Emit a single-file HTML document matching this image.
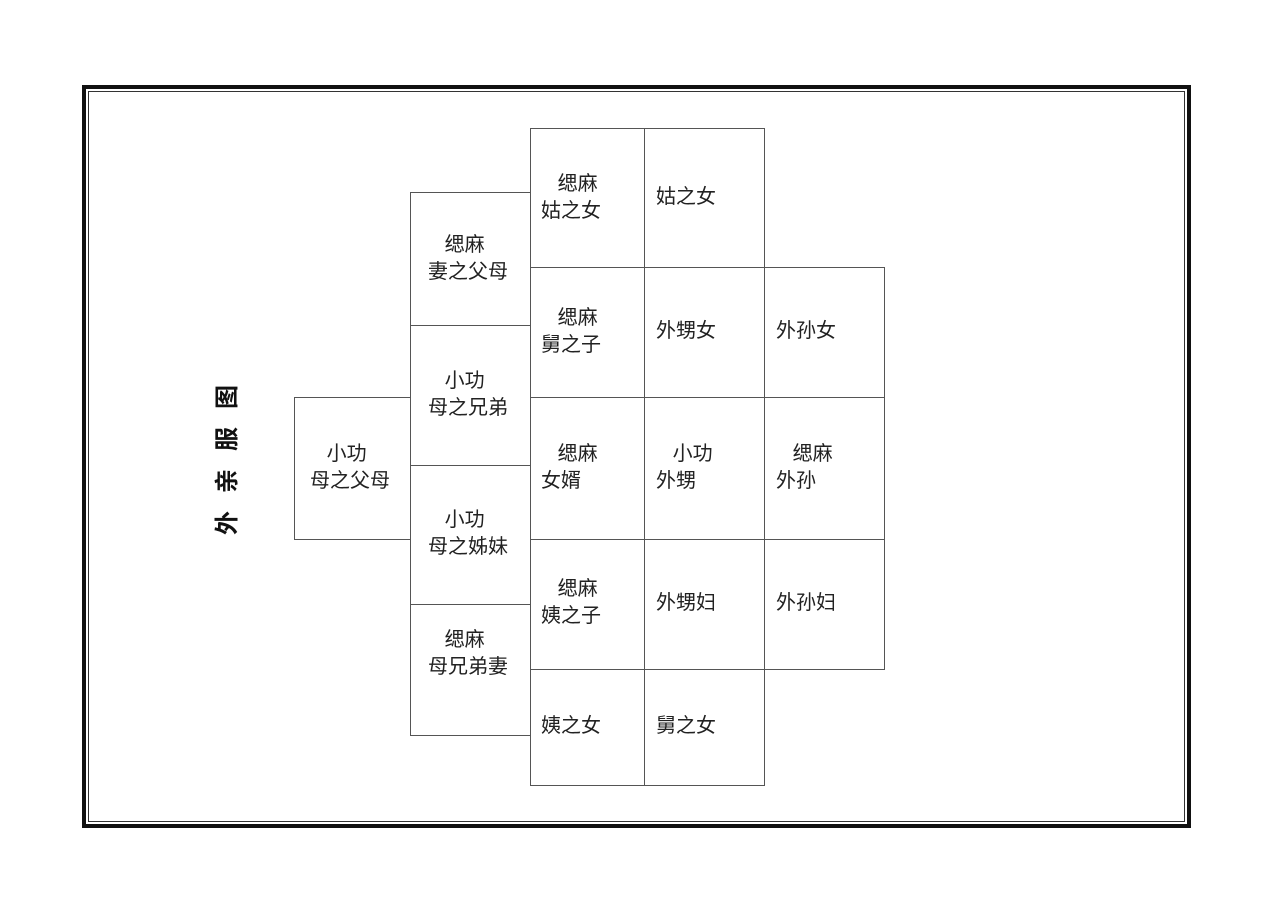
<!DOCTYPE html>
<html><head><meta charset="utf-8"><style>
body{margin:0;width:1269px;height:914px;background:#fff;position:relative;overflow:hidden;font-family:"Liberation Sans","Noto Sans CJK SC",sans-serif;}
.b{position:absolute;border:1px solid #555;box-sizing:border-box;}
.t{position:absolute;font-size:20px;line-height:27px;color:#222;white-space:nowrap;}
</style></head><body>
<div style="position:absolute;left:82px;top:85px;width:1109px;height:743px;border:4px solid #111;box-sizing:border-box"></div>
<div style="position:absolute;left:88px;top:91px;width:1097px;height:731px;border:1px solid #333;box-sizing:border-box"></div>
<div style="position:absolute;left:128px;top:443px;width:200px;height:34px;transform:rotate(-90deg);font-size:24px;font-weight:bold;letter-spacing:18px;text-indent:18px;text-align:center;line-height:34px;color:#111;white-space:nowrap">外亲服图</div>

<div class="b" style="left:294px;top:397px;width:117px;height:143px"></div>
<div class="b" style="left:410px;top:192px;width:121px;height:134px"></div>
<div class="b" style="left:410px;top:325px;width:121px;height:141px"></div>
<div class="b" style="left:410px;top:465px;width:121px;height:140px"></div>
<div class="b" style="left:410px;top:604px;width:121px;height:132px"></div>
<div class="b" style="left:530px;top:128px;width:115px;height:140px"></div>
<div class="b" style="left:530px;top:267px;width:115px;height:131px"></div>
<div class="b" style="left:530px;top:397px;width:115px;height:143px"></div>
<div class="b" style="left:530px;top:539px;width:115px;height:131px"></div>
<div class="b" style="left:530px;top:669px;width:115px;height:117px"></div>
<div class="b" style="left:644px;top:128px;width:121px;height:140px"></div>
<div class="b" style="left:644px;top:267px;width:121px;height:131px"></div>
<div class="b" style="left:644px;top:397px;width:121px;height:143px"></div>
<div class="b" style="left:644px;top:539px;width:121px;height:131px"></div>
<div class="b" style="left:644px;top:669px;width:121px;height:117px"></div>
<div class="b" style="left:764px;top:267px;width:121px;height:131px"></div>
<div class="b" style="left:764px;top:397px;width:121px;height:143px"></div>
<div class="b" style="left:764px;top:539px;width:121px;height:131px"></div>

<div class="t" style="left:310px;top:441px">&nbsp;&nbsp;&nbsp;小功<br>母之父母</div>
<div class="t" style="left:428px;top:232px">&nbsp;&nbsp;&nbsp;缌麻<br>妻之父母</div>
<div class="t" style="left:428px;top:368px">&nbsp;&nbsp;&nbsp;小功<br>母之兄弟</div>
<div class="t" style="left:428px;top:507px">&nbsp;&nbsp;&nbsp;小功<br>母之姊妹</div>
<div class="t" style="left:428px;top:627px">&nbsp;&nbsp;&nbsp;缌麻<br>母兄弟妻</div>
<div class="t" style="left:541px;top:171px">&nbsp;&nbsp;&nbsp;缌麻<br>姑之女</div>
<div class="t" style="left:541px;top:305px">&nbsp;&nbsp;&nbsp;缌麻<br>舅之子</div>
<div class="t" style="left:541px;top:441px">&nbsp;&nbsp;&nbsp;缌麻<br>女婿</div>
<div class="t" style="left:541px;top:576px">&nbsp;&nbsp;&nbsp;缌麻<br>姨之子</div>
<div class="t" style="left:541px;top:713px">姨之女</div>
<div class="t" style="left:656px;top:184px">姑之女</div>
<div class="t" style="left:656px;top:318px">外甥女</div>
<div class="t" style="left:656px;top:441px">&nbsp;&nbsp;&nbsp;小功<br>外甥</div>
<div class="t" style="left:656px;top:590px">外甥妇</div>
<div class="t" style="left:656px;top:713px">舅之女</div>
<div class="t" style="left:776px;top:318px">外孙女</div>
<div class="t" style="left:776px;top:441px">&nbsp;&nbsp;&nbsp;缌麻<br>外孙</div>
<div class="t" style="left:776px;top:590px">外孙妇</div>
</body></html>
